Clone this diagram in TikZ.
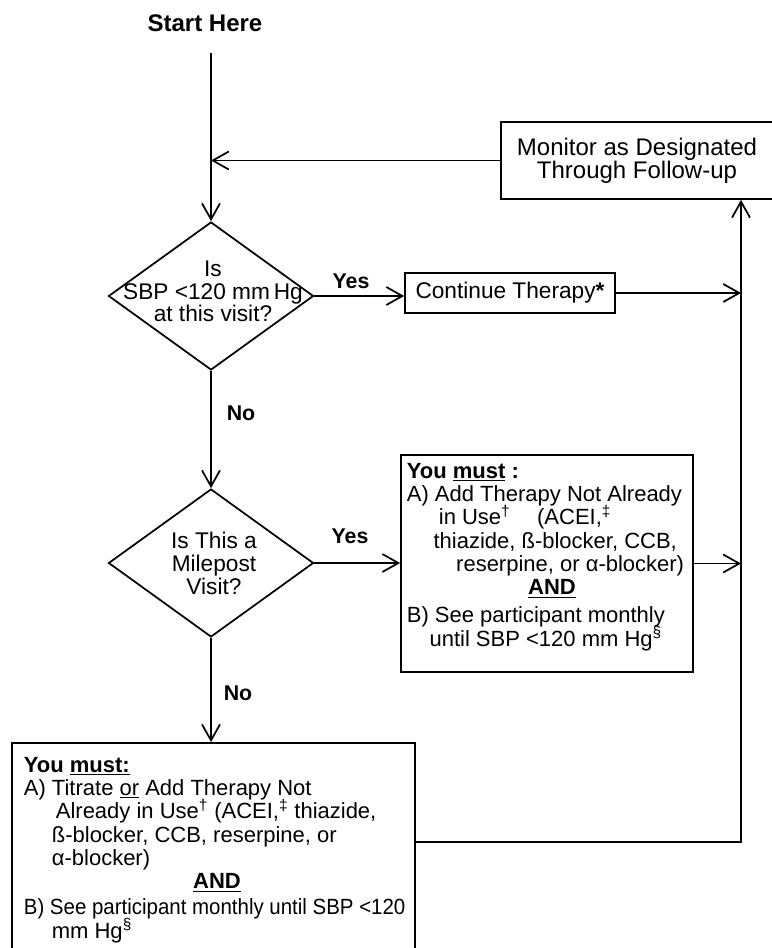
\documentclass[tikz,border=0pt]{standalone}
\usepackage{fontspec}
\setmainfont{Liberation Sans}
\usepackage{graphicx}
\usetikzlibrary{shapes.geometric,arrows.meta,calc}
\newcommand{\mysup}[1]{\textsuperscript{\smash{#1}}}
\begin{document}
\begin{tikzpicture}[x=0.75pt,y=-0.75pt,line width=1.3pt,
  arr/.style={-{Straight Barb[length=12pt,width=13.5pt,line width=1.3pt]}},
  box/.style={draw,rectangle,inner sep=0pt},
  decision/.style={draw,diamond,inner sep=0pt,minimum width=153.75pt,minimum height=111pt},
  dtext/.style={align=center,inner sep=0pt,font=\fontsize{17}{16.9}\selectfont},
  body/.style={align=left,inner sep=0pt,font=\fontsize{16.5}{17.5}\selectfont},
  lbl/.style={font=\fontsize{16}{18}\selectfont\bfseries,inner sep=0pt,anchor=base}]
\useasboundingbox (0,0) rectangle (771,948);

% nodes
\node[font=\fontsize{18}{20}\selectfont\bfseries,anchor=base,inner sep=0pt] (start) at (205,32) {Start Here};
\coordinate (s0) at (211,53);
\node[box,minimum width=204pt,minimum height=57.75pt,align=center,
      font=\fontsize{18}{17.25}\selectfont] (mon) at (637,160.5) {Monitor as Designated\\Through Follow-up};
\coordinate (j0) at (211,160.5);

\node[decision] (d1) at (211,296) {};
\node[dtext] (d1t) at (213,291.5) {Is\\SBP <120 mm\,Hg\\at this visit?};
\node[box,minimum width=157.5pt,minimum height=30pt,font=\fontsize{17}{18}\selectfont] (ct) at (510,293) {Continue Therapy\textbf{*}};

\node[decision] (d2) at (211,563) {};
\node[dtext] (d2t) at (214,563.4) {Is This a\\Milepost\\Visit?};

\node[box,minimum width=219pt,minimum height=162.75pt] (b2) at (547,563.5) {};
\node[body,anchor=north west] (b2t) at (406,462.3) {%
\textbf{You \underline{must} :}\\
A) Add Therapy Not Already\\
\hspace*{24pt}in Use\mysup{†}\hspace*{20pt}(ACEI,\mysup{‡}\\
\hspace*{20pt}thiazide, ß-blocker, CCB,\\
\hspace*{37pt}reserpine, or α-blocker)\\
\hspace*{91pt}\textbf{\underline{AND}}\\[3.5pt]
B) See participant monthly\\
\hspace*{17pt}until SBP <120 mm Hg\mysup{§}};

\node[box,minimum width=302.25pt,minimum height=159pt] (b3) at (213.5,849) {};
\node[body,anchor=north west] (b3t) at (23,756.3) {%
\textbf{You \underline{must:}}\\
A) Titrate \underline{or} Add Therapy Not\\
\hspace*{24pt}Already in Use\mysup{†} (ACEI,\mysup{‡} thiazide,\\
\hspace*{21pt}ß-blocker, CCB, reserpine, or\\
\hspace*{21pt}α-blocker)\\
\hspace*{127pt}\textbf{\underline{AND}}\\[2pt]
\scalebox{0.93}[1]{B) See participant monthly until SBP <120}\\
\hspace*{21pt}mm Hg\mysup{§}};

\coordinate (r3) at (741,842);

\node[lbl] (yes1) at (351,288) {Yes};
\node[lbl] (no1) at (241,420) {No};
\node[lbl] (yes2) at (350,543) {Yes};
\node[lbl] (no2) at (238,700) {No};

% connectors
\draw[arr] (s0) -- (d1.north);
\draw[arr] (mon.west) -- (j0);
\draw[arr] (d1.east) -- (d1.east -| ct.west);
\draw[arr] (ct.east) -- (ct.east -| r3);
\draw[arr] (d1.south) -- (d2.north);
\draw[arr] (d2.east) -- (d2.east -| b2.west);
\draw[arr] (b2.east) -- (b2.east -| r3);
\draw[arr] (d2.south) -- (d2.south |- b3.north);
\draw[arr] (b3.east |- r3) -- (r3) -- (r3 |- mon.south);
\end{tikzpicture}
\end{document}
